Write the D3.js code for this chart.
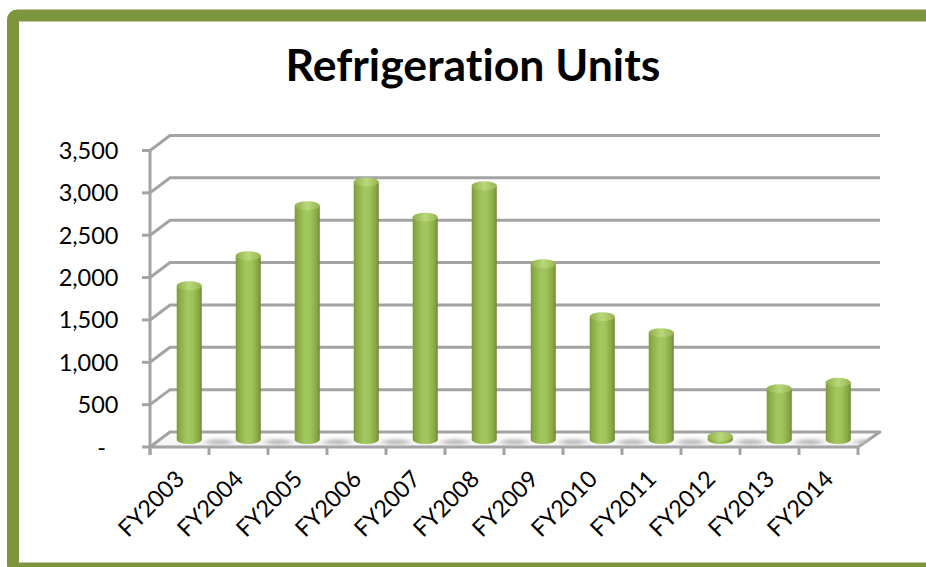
<!DOCTYPE html>
<html><head><meta charset="utf-8">
<script src="https://cdn.jsdelivr.net/npm/d3@7"></script>
<style>html,body{margin:0;padding:0;background:#fff}svg{display:block}text{font-family:Lato,"Open Sans",sans-serif;fill:#000;font-variant-ligatures:none}</style>
</head><body><svg id="c" width="926" height="567"></svg>
<script>
const categories=["FY2003","FY2004","FY2005","FY2006","FY2007","FY2008","FY2009","FY2010","FY2011","FY2012","FY2013","FY2014"];
const unitValues=[1815,2170,2760,3040,2625,2995,2075,1450,1260,35,600,675];
const yTickValues=[0,500,1000,1500,2000,2500,3000,3500];
const yTickLabels=["-","500","1,000","1,500","2,000","2,500","3,000","3,500"];
const titleText="Refrigeration Units";

const svg=d3.select("#c");
const defs=svg.append("defs");
const depth={x:20,y:-15};
const x=d3.scaleBand().domain(categories).range([150,858]).paddingInner(0).paddingOuter(0);
const y=d3.scaleLinear().domain([0,3500]).range([447,150.5]);
const grey="#a3a3a3";

const g1=defs.append("linearGradient").attr("id","body").attr("x1",0).attr("x2",1).attr("y1",0).attr("y2",0);
[[0,"#7b9440"],[0.1,"#8aa944"],[0.4,"#a2c75e"],[0.62,"#a0c55c"],[0.9,"#86a540"],[1,"#6b8235"]].forEach(s=>g1.append("stop").attr("offset",s[0]).attr("stop-color",s[1]));
const g2=defs.append("linearGradient").attr("id","cap").attr("x1",0).attr("x2",1).attr("y1",0).attr("y2",0);
[[0,"#8fae4a"],[0.5,"#b9d87a"],[1,"#97b650"]].forEach(s=>g2.append("stop").attr("offset",s[0]).attr("stop-color",s[1]));
const g3=defs.append("linearGradient").attr("id","floorShade").attr("x1",0).attr("x2",0).attr("y1",0).attr("y2",1);
[[0,"#ffffff"],[0.6,"#f8f8f8"],[1,"#f1f1f1"]].forEach(s=>g3.append("stop").attr("offset",s[0]).attr("stop-color",s[1]));
defs.append("filter").attr("id","blur").attr("x","-40%").attr("y","-100%").attr("width","180%").attr("height","300%")
  .append("feGaussianBlur").attr("stdDeviation","3.5 1.4");
defs.append("filter").attr("id","soft").append("feGaussianBlur").attr("stdDeviation",0.6);
defs.append("filter").attr("id","barSoft").attr("x","-10%").attr("width","120%").append("feGaussianBlur").attr("stdDeviation",0.45);

svg.append("rect").attr("x",13).attr("y",15.5).attr("width",960).attr("height",553)
  .attr("rx",4).attr("fill","#fff").attr("stroke","#7d953c").attr("stroke-width",12);

svg.append("text").attr("x",473).attr("y",81).attr("text-anchor","middle")
  .attr("font-size",44.6).attr("font-weight",700).text(titleText);

const grid=svg.append("g").attr("fill","none").attr("stroke",grey).attr("stroke-width",3).attr("filter","url(#soft)");
const frontX=x.range()[0], frontXEnd=x.range()[1];
yTickValues.slice(1).forEach(v=>{
  const line=d3.line();
  grid.append("path").attr("d",line([[frontX,y(v)],[frontX+depth.x,y(v)+depth.y],[frontXEnd+depth.x+2,y(v)+depth.y]]));
});

const floorPts=[[frontX,y(0)],[frontX+depth.x,y(0)+depth.y],[frontXEnd+depth.x+2,y(0)+depth.y],[frontXEnd,y(0)]];
const floorPath=d3.line()(floorPts)+"Z";
defs.append("clipPath").attr("id","floorClip").append("path").attr("d",floorPath);
svg.append("path").attr("d",floorPath).attr("fill","url(#floorShade)").attr("stroke",grey).attr("stroke-width",3).attr("stroke-linejoin","round").attr("filter","url(#soft)");

const bw=25;
const cx=d=>x(d)+x.bandwidth()*0.665;
const base=y(0)-7.5;
svg.append("g").attr("clip-path","url(#floorClip)").selectAll("ellipse").data(categories).join("ellipse")
  .attr("cx",d=>cx(d)+30).attr("cy",base+2.5).attr("rx",13).attr("ry",2.8)
  .attr("fill","#bdbdbd").attr("filter","url(#blur)");

const axisG=svg.append("g").attr("stroke",grey).attr("stroke-width",3).attr("fill","none").attr("filter","url(#soft)");
axisG.append("path").attr("d",d3.line()([[frontX,y(3500)],[frontX,y(0)+8]]));
axisG.selectAll("path.yt").data(yTickValues).join("path").attr("class","yt")
  .attr("d",v=>d3.line()([[frontX-8,y(v)],[frontX,y(v)]]));
axisG.selectAll("path.xt").data(x.domain().map(d=>x(d)).concat(frontXEnd)).join("path").attr("class","xt")
  .attr("d",p=>d3.line()([[p,y(0)],[p,y(0)+8]]));

const ry=4.5;
const bars=svg.append("g").attr("filter","url(#barSoft)").selectAll("g").data(categories.map((c,i)=>({c,v:unitValues[i]}))).join("g");
const topY=d=>base-(y(0)-y(d.v));
bars.append("path").attr("fill","url(#body)").attr("d",d=>{
  const l=cx(d.c)-bw/2,r=cx(d.c)+bw/2;
  return `M${l},${topY(d)}L${l},${base}A${bw/2},${ry} 0 0 0 ${r},${base}L${r},${topY(d)}Z`;
});
bars.append("ellipse").attr("cx",d=>cx(d.c)).attr("cy",topY).attr("rx",bw/2).attr("ry",ry).attr("fill","url(#cap)");

svg.append("g").selectAll("text").data(yTickValues).join("text")
  .attr("x",v=>v===0?106:118.5).attr("y",v=>y(v)+8.5).attr("text-anchor","end")
  .attr("font-size",23.5).text((v,i)=>yTickLabels[i]);
svg.append("g").selectAll("text").data(categories).join("text")
  .attr("text-anchor","end").attr("font-size",23.3)
  .attr("transform",d=>`translate(${x(d)+x.bandwidth()*0.41},${y(0)+22}) rotate(-45)`)
  .attr("dy","0.7em").text(d=>d);
</script></body></html>
